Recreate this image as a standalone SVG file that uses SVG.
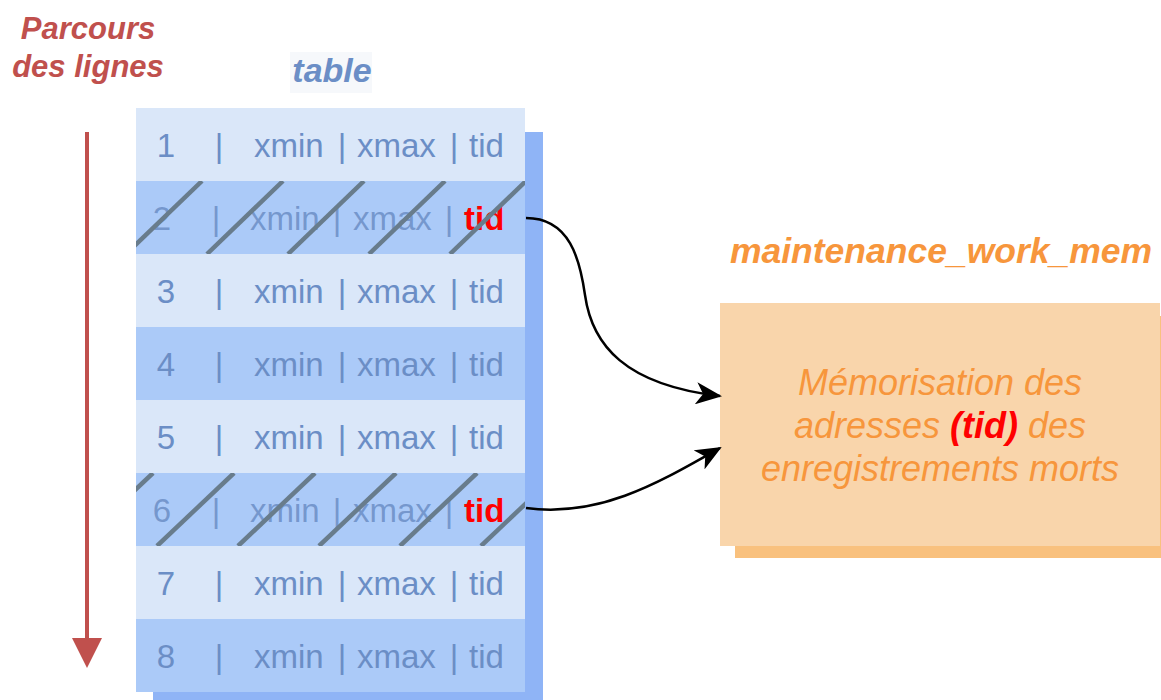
<svg xmlns="http://www.w3.org/2000/svg" width="1161" height="700" viewBox="0 0 1161 700">
<style>
  .lbl { font-family: "Liberation Sans", Arial, sans-serif; }
  .cell { font-family: "Liberation Sans", Arial, sans-serif; font-size: 33px; fill: #6b8ec6; }
  .rowL { fill: #dae7f9; }
  .rowD { fill: #abcaf8; }
  .hatch { stroke: #687c8c; stroke-width: 4.5; fill: none; }
  .red { fill: #ff0000; font-weight: bold; }
  .conn { fill: none; stroke: #000; stroke-width: 2.5; }
</style>
<defs>
  <marker id="ah" markerUnits="userSpaceOnUse" markerWidth="26" markerHeight="22" viewBox="0 0 26 22" refX="24" refY="11" orient="auto">
    <path d="M0,0 L26,11 L0,22 L7,11 Z" fill="#000"/>
  </marker>
  <clipPath id="clip2"><rect x="136" y="181" width="389" height="73"/></clipPath>
  <clipPath id="clip6"><rect x="136" y="473" width="389" height="73"/></clipPath>
</defs>
<rect width="1161" height="700" fill="#ffffff"/>

<g id="direction">
  <text class="lbl" x="88" y="39" text-anchor="middle" font-size="31" font-weight="bold" font-style="italic" fill="#c0504d">Parcours</text>
  <text class="lbl" x="88" y="77" text-anchor="middle" font-size="31" font-weight="bold" font-style="italic" fill="#c0504d">des lignes</text>
  <line x1="87" y1="132" x2="87" y2="640" stroke="#c0504d" stroke-width="4"/>
  <path d="M72,638 L102,638 L87,668 Z" fill="#c0504d"/>
</g>

<g id="table">
  <rect x="290" y="52" width="82" height="41" fill="#f6f8fb"/>
  <text class="lbl" x="332" y="82" text-anchor="middle" font-size="34" font-weight="bold" font-style="italic" fill="#6b8ec6">table</text>
  <rect x="153" y="132" width="390" height="570" fill="#8fb4f6"/>
  <rect class="rowL" x="136" y="108" width="389" height="73"/>
  <rect class="rowD" x="136" y="181" width="389" height="73"/>
  <rect class="rowL" x="136" y="254" width="389" height="73"/>
  <rect class="rowD" x="136" y="327" width="389" height="73"/>
  <rect class="rowL" x="136" y="400" width="389" height="73"/>
  <rect class="rowD" x="136" y="473" width="389" height="73"/>
  <rect class="rowL" x="136" y="546" width="389" height="73"/>
  <rect class="rowD" x="136" y="619" width="389" height="73"/>
</g>

<g id="row1" class="cell">
  <text x="166" y="157" text-anchor="middle">1</text>
  <text x="219" y="157" text-anchor="middle">|</text>
  <text x="254" y="157">xmin</text>
  <text x="342" y="157" text-anchor="middle">|</text>
  <text x="357" y="157">xmax</text>
  <text x="454" y="157" text-anchor="middle">|</text>
  <text x="469" y="157">tid</text>
</g>
<g id="row2" class="cell">
  <text x="162" y="230" text-anchor="middle" fill-opacity="0.85">2</text>
  <text x="216" y="230" text-anchor="middle" fill-opacity="0.85">|</text>
  <text x="250" y="230" fill-opacity="0.85">xmin</text>
  <text x="337" y="230" text-anchor="middle" fill-opacity="0.85">|</text>
  <text x="353" y="230" fill-opacity="0.85">xmax</text>
  <text x="449" y="230" text-anchor="middle" fill-opacity="0.85">|</text>
  <text x="464" y="230" class="red">tid</text>
  <g clip-path="url(#clip2)">
    <line class="hatch" x1="126" y1="254" x2="202" y2="181"/>
    <line class="hatch" x1="207" y1="254" x2="283" y2="181"/>
    <line class="hatch" x1="288" y1="254" x2="364" y2="181"/>
    <line class="hatch" x1="369" y1="254" x2="445" y2="181"/>
    <line class="hatch" x1="450" y1="254" x2="526" y2="181"/>
  </g>
</g>
<g id="row3" class="cell">
  <text x="166" y="303" text-anchor="middle">3</text>
  <text x="219" y="303" text-anchor="middle">|</text>
  <text x="254" y="303">xmin</text>
  <text x="342" y="303" text-anchor="middle">|</text>
  <text x="357" y="303">xmax</text>
  <text x="454" y="303" text-anchor="middle">|</text>
  <text x="469" y="303">tid</text>
</g>
<g id="row4" class="cell">
  <text x="166" y="376" text-anchor="middle">4</text>
  <text x="219" y="376" text-anchor="middle">|</text>
  <text x="254" y="376">xmin</text>
  <text x="342" y="376" text-anchor="middle">|</text>
  <text x="357" y="376">xmax</text>
  <text x="454" y="376" text-anchor="middle">|</text>
  <text x="469" y="376">tid</text>
</g>
<g id="row5" class="cell">
  <text x="166" y="449" text-anchor="middle">5</text>
  <text x="219" y="449" text-anchor="middle">|</text>
  <text x="254" y="449">xmin</text>
  <text x="342" y="449" text-anchor="middle">|</text>
  <text x="357" y="449">xmax</text>
  <text x="454" y="449" text-anchor="middle">|</text>
  <text x="469" y="449">tid</text>
</g>
<g id="row6" class="cell">
  <text x="162" y="522" text-anchor="middle" fill-opacity="0.85">6</text>
  <text x="216" y="522" text-anchor="middle" fill-opacity="0.85">|</text>
  <text x="250" y="522" fill-opacity="0.85">xmin</text>
  <text x="337" y="522" text-anchor="middle" fill-opacity="0.85">|</text>
  <text x="353" y="522" fill-opacity="0.85">xmax</text>
  <text x="449" y="522" text-anchor="middle" fill-opacity="0.85">|</text>
  <text x="464" y="522" class="red">tid</text>
  <g clip-path="url(#clip6)">
    <line class="hatch" x1="76" y1="546" x2="153" y2="473"/>
    <line class="hatch" x1="157" y1="546" x2="234" y2="473"/>
    <line class="hatch" x1="238" y1="546" x2="315" y2="473"/>
    <line class="hatch" x1="319" y1="546" x2="396" y2="473"/>
    <line class="hatch" x1="400" y1="546" x2="477" y2="473"/>
    <line class="hatch" x1="481" y1="546" x2="558" y2="473"/>
  </g>
</g>
<g id="row7" class="cell">
  <text x="166" y="595" text-anchor="middle">7</text>
  <text x="219" y="595" text-anchor="middle">|</text>
  <text x="254" y="595">xmin</text>
  <text x="342" y="595" text-anchor="middle">|</text>
  <text x="357" y="595">xmax</text>
  <text x="454" y="595" text-anchor="middle">|</text>
  <text x="469" y="595">tid</text>
</g>
<g id="row8" class="cell">
  <text x="166" y="668" text-anchor="middle">8</text>
  <text x="219" y="668" text-anchor="middle">|</text>
  <text x="254" y="668">xmin</text>
  <text x="342" y="668" text-anchor="middle">|</text>
  <text x="357" y="668">xmax</text>
  <text x="454" y="668" text-anchor="middle">|</text>
  <text x="469" y="668">tid</text>
</g>

<g id="memory">
  <text class="lbl" x="941" y="263" text-anchor="middle" font-size="35.5" font-weight="bold" font-style="italic" fill="#f7963c">maintenance_work_mem</text>
  <rect x="735" y="316" width="430" height="242" fill="#f9c17e"/>
  <rect x="720" y="303" width="440" height="243" fill="#f9d5ab"/>
  <text class="lbl" x="940" y="395" text-anchor="middle" font-size="36" font-style="italic" fill="#f7963c">Mémorisation des</text>
  <text class="lbl" x="940" y="438" text-anchor="middle" font-size="36" font-style="italic" fill="#f7963c">adresses <tspan fill="#ff0000" font-weight="bold">(tid)</tspan> des</text>
  <text class="lbl" x="940" y="481" text-anchor="middle" font-size="36" font-style="italic" fill="#f7963c">enregistrements morts</text>
</g>

<g id="connectors">
  <path class="conn" d="M526,218 C570,218 580,260 585,295 C592,345 625,385 720,396" marker-end="url(#ah)"/>
  <path class="conn" d="M526,508 C600,518 660,482 720,448" marker-end="url(#ah)"/>
</g>
</svg>
